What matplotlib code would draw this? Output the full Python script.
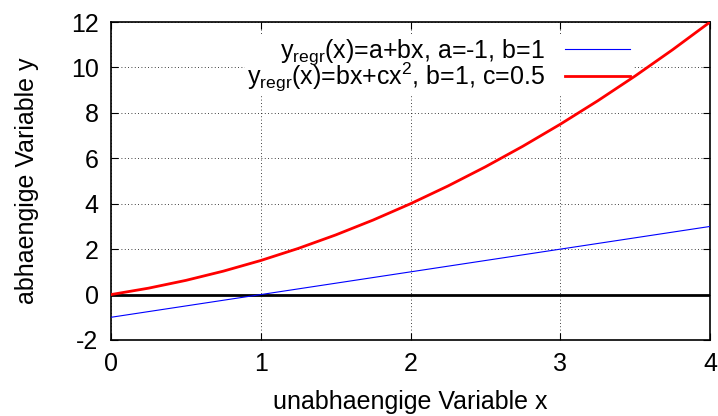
import matplotlib
matplotlib.use("Agg")
import matplotlib.pyplot as plt

plt.rcParams['font.family'] = ['Liberation Sans', 'DejaVu Sans']
plt.rcParams['mathtext.fontset'] = 'custom'
plt.rcParams['mathtext.rm'] = 'Liberation Sans'
plt.rcParams['mathtext.it'] = 'Liberation Sans'
plt.rcParams['axes.unicode_minus'] = False

# sampled values of the two regression curves
x_vals = [0, 0.25, 0.5, 0.75, 1, 1.25, 1.5, 1.75, 2, 2.25, 2.5, 2.75, 3, 3.25, 3.5, 3.75, 4]
y_lin = [-1, -0.75, -0.5, -0.25, 0, 0.25, 0.5, 0.75, 1, 1.25, 1.5, 1.75, 2, 2.25, 2.5, 2.75, 3]
y_quad = [0, 0.28125, 0.625, 1.03125, 1.5, 2.03125, 2.625, 3.28125, 4, 4.78125, 5.625,
          6.53125, 7.5, 8.53125, 9.625, 10.78125, 12]
x_ticks = [0, 1, 2, 3, 4]
y_ticks = [-2, 0, 2, 4, 6, 8, 10, 12]

fig = plt.figure(figsize=(7.18, 4.16), dpi=100)
ax = fig.add_axes([0.1546, 0.1827, 0.8343, 0.7643])

ax.axhline(0, color='black', lw=2, zorder=2)
ax.plot(x_vals, y_lin, color='blue', lw=0.8,
        label=r'y$_{\mathregular{regr}}$(x)=a+bx, a=-1, b=1', zorder=3)
ax.plot(x_vals, y_quad, color='red', lw=2,
        label=r'y$_{\mathregular{regr}}$(x)=bx+cx$^{\mathregular{2}}$, b=1, c=0.5', zorder=3)

ax.set_xlim(0, 4)
ax.set_ylim(-2, 12)
ax.set_xticks(x_ticks)
ax.set_yticks(y_ticks)
ax.tick_params(direction='in', top=True, right=True, labelsize=18, length=5, pad=9)
ax.grid(True, color='black', ls=(0, (1, 3)), lw=0.6)
for s in ax.spines.values():
    s.set_linewidth(1.2)

ax.set_xlabel('unabhaengige Variable x', fontsize=18, labelpad=10)
ax.set_ylabel('abhaengige Variable y', fontsize=18, labelpad=23)

leg = ax.legend(loc='upper right', markerfirst=False, frameon=True, fontsize=18,
                handlelength=2.6, borderpad=0.1, labelspacing=-0.25, handletextpad=0.8,
                bbox_to_anchor=(0.892, 1.0))
leg.set_zorder(2.5)
leg.get_frame().set_facecolor('white')
leg.get_frame().set_edgecolor('none')
leg.get_frame().set_alpha(1)
for t in leg.get_texts():
    t.set_ha('right')

fig.savefig('out.png', dpi=100)
